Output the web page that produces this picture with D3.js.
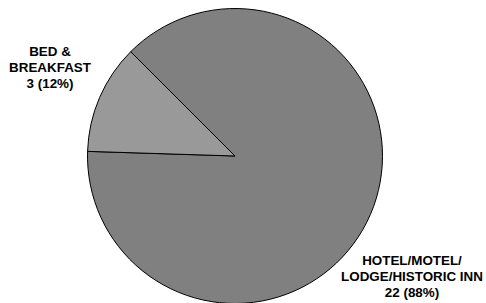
<!DOCTYPE html>
<html>
<head>
<meta charset="utf-8">
<style>
  body { margin: 0; background: #fff; }
  .label {
    font-family: 'Liberation Sans', Arial, sans-serif;
    font-size: 13.4px;
    font-weight: bold;
    fill: #000;
  }
</style>
</head>
<body>
<div id="chart"></div>
<script src="https://d3js.org/d3.v7.min.js"></script>
<script>
var categories = ['HOTEL/MOTEL/LODGE/HISTORIC INN', 'BED & BREAKFAST']
var labelLines = [['HOTEL/MOTEL/', 'LODGE/HISTORIC INN'], ['BED &', 'BREAKFAST']]
var counts = [22, 3]
var colors = ['#808080', '#999999']

var width = 486
var height = 303
var cx = 235
var cy = 156
var radius = 147.5

var svg = d3.select('#chart')
  .append('svg')
  .attr('width', width)
  .attr('height', height)

var g = svg.append('g')
  .attr('transform', 'translate(' + cx + ',' + cy + ')')

var total = d3.sum(counts)

// pie starts at roughly 10:30 o'clock like the original
var pie = d3.pie()
  .sort(null)
  .value(d => d)
  .startAngle(-Math.PI / 4)
  .endAngle(-Math.PI / 4 + 2 * Math.PI)

var arc = d3.arc()
  .innerRadius(0)
  .outerRadius(radius)

var arcs = pie(counts)

g.selectAll('path')
  .data(arcs)
  .enter()
  .append('path')
  .attr('d', arc)
  .attr('fill', (d, i) => colors[i])
  .attr('stroke', '#000')
  .attr('stroke-width', 1)

// label spots, set by hand to sit where the original put them
var labelPos = [[177, 109], [-185, -100]]

arcs.forEach(function(d, i) {
  var lines = labelLines[i].concat([counts[i] + ' (' + Math.round(counts[i] / total * 100) + '%)'])
  var t = g.append('text')
    .attr('class', 'label')
    .attr('text-anchor', 'middle')
    .attr('x', labelPos[i][0])
    .attr('y', labelPos[i][1])
  lines.forEach(function(line, j) {
    t.append('tspan')
      .attr('x', labelPos[i][0])
      .attr('dy', j == 0 ? 0 : 16)
      .text(line)
  })
})
</script>
</body>
</html>
